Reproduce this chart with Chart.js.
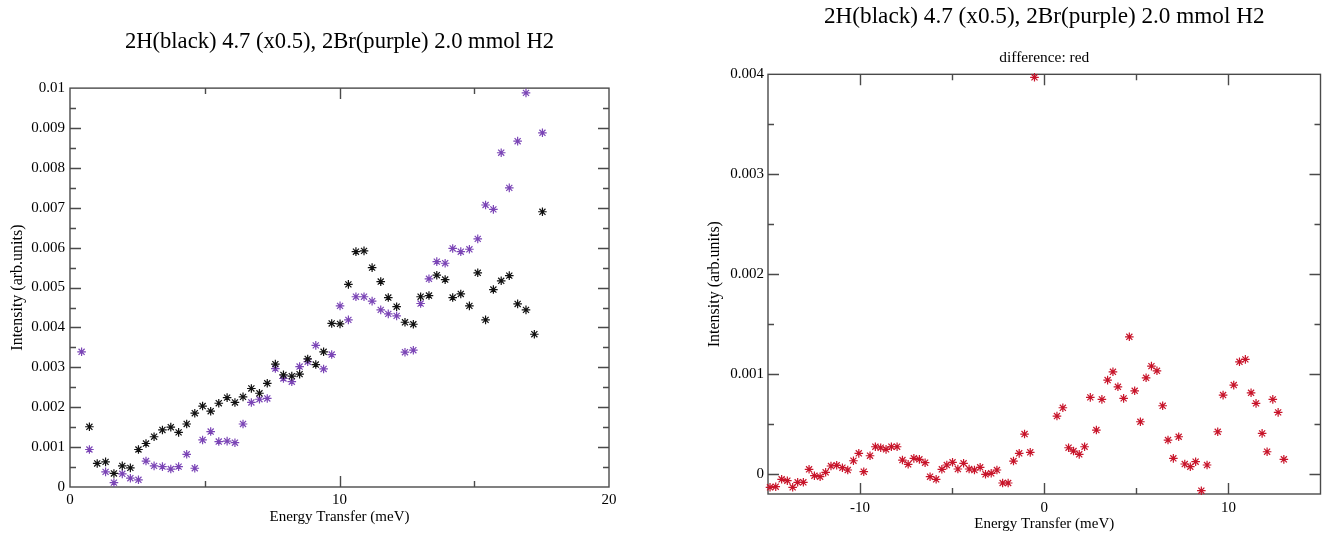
<!DOCTYPE html>
<html>
<head>
<meta charset="utf-8">
<title>2H / 2Br H2 spectra</title>
<script src="https://cdn.jsdelivr.net/npm/chart.js@4.4.1/dist/chart.umd.min.js"></script>
<style>
  html, body { margin: 0; padding: 0; background: #fff; overflow: hidden; }
  .panel { position: absolute; top: 0; height: 533px; }
  #left-panel { left: 0; width: 660px; }
  #right-panel { left: 660px; width: 666px; }
</style>
</head>
<body>
<div class="panel" id="left-panel"><canvas id="leftChart"></canvas></div>
<div class="panel" id="right-panel"><canvas id="rightChart"></canvas></div>
<script>
// --- Data: left panel, 2H (black, scaled x0.5) ---
const energyH = [
  0.72, 1.01, 1.32, 1.63, 1.94, 2.24, 2.54, 2.82, 3.12, 3.43,
  3.74, 4.03, 4.33, 4.63, 4.92, 5.22, 5.52, 5.83, 6.12, 6.42,
  6.73, 7.03, 7.32, 7.62, 7.92, 8.23, 8.52, 8.82, 9.12, 9.41,
  9.71, 10.02, 10.33, 10.61, 10.91, 11.21, 11.53, 11.81, 12.12, 12.43,
  12.74, 13.01, 13.32, 13.61, 13.92, 14.20, 14.50, 14.82, 15.13, 15.42,
  15.71, 16.00, 16.30, 16.61, 16.92, 17.23, 17.53
];
const intensityH = [
  0.00151, 0.00059, 0.00063, 0.00034, 0.00053, 0.00048, 0.00094, 0.00109, 0.00126, 0.00143,
  0.00150, 0.00137, 0.00158, 0.00185, 0.00203, 0.00190, 0.00210, 0.00224, 0.00212, 0.00226,
  0.00247, 0.00235, 0.00260, 0.00308, 0.00281, 0.00278, 0.00283, 0.00321, 0.00307, 0.00339,
  0.00410, 0.00409, 0.00508, 0.00590, 0.00592, 0.00550, 0.00515, 0.00475, 0.00452, 0.00413,
  0.00408, 0.00477, 0.00480, 0.00531, 0.00520, 0.00475, 0.00484, 0.00454, 0.00537, 0.00419,
  0.00495, 0.00517, 0.00530, 0.00459, 0.00444, 0.00383, 0.00690
];

// --- Data: left panel, 2Br (purple) ---
const energyBr = [
  0.43, 0.72, 1.32, 1.63, 1.94, 2.24, 2.54, 2.82, 3.12, 3.43,
  3.74, 4.03, 4.33, 4.63, 4.92, 5.22, 5.52, 5.83, 6.12, 6.42,
  6.73, 7.03, 7.32, 7.62, 7.92, 8.23, 8.52, 8.82, 9.12, 9.41,
  9.71, 10.02, 10.33, 10.61, 10.91, 11.21, 11.53, 11.81, 12.12, 12.43,
  12.74, 13.01, 13.32, 13.61, 13.92, 14.20, 14.50, 14.82, 15.13, 15.42,
  15.71, 16.00, 16.30, 16.61, 16.92, 17.53
];
const intensityBr = [
  0.00339, 0.00094, 0.00038, 0.00011, 0.00033, 0.00022, 0.00018, 0.00065, 0.00053, 0.00051,
  0.00045, 0.00051, 0.00082, 0.00047, 0.00118, 0.00139, 0.00114, 0.00115, 0.00111, 0.00158,
  0.00212, 0.00220, 0.00222, 0.00297, 0.00272, 0.00264, 0.00302, 0.00314, 0.00355, 0.00296,
  0.00332, 0.00454, 0.00419, 0.00477, 0.00477, 0.00466, 0.00444, 0.00434, 0.00429, 0.00338,
  0.00343, 0.00460, 0.00522, 0.00565, 0.00561, 0.00598, 0.00590, 0.00596, 0.00622, 0.00707,
  0.00696, 0.00838, 0.00750, 0.00867, 0.00988, 0.00888
];

// --- Data: right panel, difference (red) ---
const energyDiff = [
  -14.89, -14.58, -14.26, -13.95, -13.66, -13.39, -13.08, -12.77, -12.48, -12.17,
  -11.87, -11.58, -11.27, -10.96, -10.67, -10.36, -10.07, -9.80, -9.46, -9.17,
  -8.88, -8.59, -8.30, -7.99, -7.70, -7.39, -7.08, -6.78, -6.47, -6.20,
  -5.87, -5.56, -5.29, -4.98, -4.69, -4.38, -4.08, -3.79, -3.48, -3.19,
  -2.88, -2.57, -2.26, -1.96, -1.67, -1.36, -1.07, -0.76, -0.53, 0.69,
  1.01, 1.32, 1.59, 1.90, 2.19, 2.50, 2.83, 3.13, 3.44, 3.73,
  4.00, 4.31, 4.62, 4.91, 5.22, 5.53, 5.82, 6.12, 6.43, 6.72,
  7.01, 7.30, 7.63, 7.93, 8.22, 8.53, 8.84, 9.42, 9.71, 10.29,
  10.60, 10.92, 11.23, 11.50, 11.83, 12.10, 12.41, 12.70, 13.01
];
const intensityDiff = [
  -0.000133, -0.000127, -0.000053, -0.000067, -0.000133, -0.000083, -0.000083, 0.000047, -0.000017, -0.000027,
  0.000017, 0.000080, 0.000087, 0.000063, 0.000040, 0.000133, 0.000207, 0.000023, 0.000183, 0.000273,
  0.000263, 0.000247, 0.000273, 0.000273, 0.000140, 0.000097, 0.000157, 0.000147, 0.000113, -0.000027,
  -0.000053, 0.000047, 0.000090, 0.000117, 0.000050, 0.000107, 0.000050, 0.000040, 0.000067, -0.000003,
  0.000007, 0.000040, -0.000090, -0.000090, 0.000130, 0.000207, 0.000400, 0.000217, 0.003970, 0.000580,
  0.000663, 0.000263, 0.000230, 0.000197, 0.000273, 0.000767, 0.000440, 0.000747, 0.000940, 0.001023,
  0.000873, 0.000757, 0.001373, 0.000833, 0.000523, 0.000963, 0.001080, 0.001033, 0.000683, 0.000340,
  0.000157, 0.000373, 0.000100, 0.000073, 0.000123, -0.000167, 0.000090, 0.000423, 0.000790, 0.000890,
  0.001123, 0.001147, 0.000813, 0.000707, 0.000407, 0.000223, 0.000747, 0.000617, 0.000147
];

// --- Ticks ---
const leftXTicks = [0, 10, 20];
const leftXTickLabels = ['0', '10', '20'];
const leftXMinor = [5, 15];
const leftYTicks = [0, 0.001, 0.002, 0.003, 0.004, 0.005, 0.006, 0.007, 0.008, 0.009, 0.01];
const leftYTickLabels = ['0', '0.001', '0.002', '0.003', '0.004', '0.005', '0.006', '0.007', '0.008', '0.009', '0.01'];
const leftYMinor = [0.0005, 0.0015, 0.0025, 0.0035, 0.0045, 0.0055, 0.0065, 0.0075, 0.0085, 0.0095];

const rightXTicks = [-10, 0, 10];
const rightXTickLabels = ['-10', '0', '10'];
const rightXMinor = [-5, 5];
const rightYTicks = [0, 0.001, 0.002, 0.003, 0.004];
const rightYTickLabels = ['0', '0.001', '0.002', '0.003', '0.004'];
const rightYMinor = [0.0005, 0.0015, 0.0025, 0.0035];

// --- Style ---
const SERIF = "'Liberation Serif', 'DejaVu Serif', serif";
const BLACK = '#111111';
const PURPLE = '#7b45b6';
const RED = '#c8142a';
const FRAME = '#4a4a4a';

// frame + inward mirrored ticks, placed through the chart's own scales
const innerTicks = {
  id: 'innerTicks',
  beforeDatasetsDraw(chart, args, opts) {
    const { ctx, chartArea: a, scales } = chart;
    ctx.save();
    ctx.strokeStyle = opts.color;
    ctx.lineWidth = opts.width;
    ctx.strokeRect(a.left, a.top, a.right - a.left, a.bottom - a.top);
    ctx.beginPath();
    const onX = (vals, len) => vals.forEach(v => {
      const px = Math.round(scales.x.getPixelForValue(v)) + 0.5;
      ctx.moveTo(px, a.bottom); ctx.lineTo(px, a.bottom - len);
      ctx.moveTo(px, a.top); ctx.lineTo(px, a.top + len);
    });
    const onY = (vals, len) => vals.forEach(v => {
      const py = Math.round(scales.y.getPixelForValue(v)) + 0.5;
      ctx.moveTo(a.left, py); ctx.lineTo(a.left + len, py);
      ctx.moveTo(a.right, py); ctx.lineTo(a.right - len, py);
    });
    onX(opts.xMajor, opts.majorLen);
    onX(opts.xMinor, opts.minorLen);
    onY(opts.yMajor, opts.majorLen);
    onY(opts.yMinor, opts.minorLen);
    ctx.stroke();
    ctx.restore();
  }
};

function toPoints(xs, ys) {
  return xs.map((x, i) => ({ x: x, y: ys[i] }));
}

function starSet(label, xs, ys, color) {
  return {
    label: label,
    data: toPoints(xs, ys),
    pointStyle: 'star',
    pointRadius: 4.3,
    pointBorderWidth: 1.2,
    pointBorderColor: color,
    pointBackgroundColor: color,
    showLine: false,
    clip: false
  };
}

function axis(o) {
  return {
    type: 'linear',
    min: o.min,
    max: o.max,
    afterBuildTicks: s => { s.ticks = o.ticks.map(v => ({ value: v })); },
    afterFit: s => { if (o.height) s.height = o.height; if (o.width) s.width = o.width; },
    grid: { display: false, drawTicks: false },
    border: { display: false },
    ticks: {
      autoSkip: false,
      maxRotation: 0,
      padding: o.pad,
      color: '#000',
      font: { family: SERIF, size: 15 },
      callback: (v, i) => o.labels[i]
    },
    title: {
      display: true,
      text: o.title,
      color: '#000',
      font: { family: SERIF, size: o.titleSize },
      padding: o.titlePad
    }
  };
}

// --- Left chart ---
new Chart(document.getElementById('leftChart'), {
  type: 'scatter',
  data: {
    datasets: [
      starSet('2H', energyH, intensityH, BLACK),
      starSet('2Br', energyBr, intensityBr, PURPLE)
    ]
  },
  options: {
    responsive: true,
    maintainAspectRatio: false,
    animation: false,
    events: [],
    layout: { padding: { left: 0, right: 51, top: 0, bottom: 0 } },
    scales: {
      x: axis({ min: 0, max: 20, ticks: leftXTicks, labels: leftXTickLabels, height: 46, pad: 4,
                title: 'Energy Transfer (meV)', titleSize: 15, titlePad: { top: 0, bottom: 7 } }),
      y: axis({ min: 0, max: 0.01, ticks: leftYTicks, labels: leftYTickLabels, width: 70, pad: 5,
                title: 'Intensity (arb.units)', titleSize: 16, titlePad: { top: 8, bottom: 0 } })
    },
    plugins: {
      legend: { display: false },
      tooltip: { enabled: false },
      title: {
        display: true,
        fullSize: false,
        text: '2H(black) 4.7 (x0.5), 2Br(purple) 2.0 mmol H2',
        color: '#000',
        font: { family: SERIF, size: 22.6, weight: 'normal' },
        padding: { top: 29, bottom: 32 }
      },
      innerTicks: { color: FRAME, width: 1.4, majorLen: 11, minorLen: 6,
                    xMajor: [10], xMinor: leftXMinor, yMajor: leftYTicks.slice(1, -1), yMinor: leftYMinor }
    }
  },
  plugins: [innerTicks]
});

// --- Right chart ---
new Chart(document.getElementById('rightChart'), {
  type: 'scatter',
  data: {
    datasets: [starSet('difference', energyDiff, intensityDiff, RED)]
  },
  options: {
    responsive: true,
    maintainAspectRatio: false,
    animation: false,
    events: [],
    layout: { padding: { left: 0, right: 2, top: 0, bottom: 0 } },
    scales: {
      x: axis({ min: -15, max: 15, ticks: rightXTicks, labels: rightXTickLabels, height: 39, pad: 5,
                title: 'Energy Transfer (meV)', titleSize: 15, titlePad: { top: 0, bottom: 0 } }),
      y: axis({ min: -0.0002, max: 0.004, ticks: rightYTicks, labels: rightYTickLabels, width: 108, pad: 4,
                title: 'Intensity (arb.units)', titleSize: 16, titlePad: { top: 45, bottom: 0 } })
    },
    plugins: {
      legend: { display: false },
      tooltip: { enabled: false },
      title: {
        display: true,
        fullSize: false,
        text: '2H(black) 4.7 (x0.5), 2Br(purple) 2.0 mmol H2',
        color: '#000',
        font: { family: SERIF, size: 23.2, weight: 'normal' },
        padding: { top: 3, bottom: 18 }
      },
      subtitle: {
        display: true,
        fullSize: false,
        text: 'difference: red',
        color: '#000',
        font: { family: SERIF, size: 15.4, weight: 'normal' },
        padding: { top: 0, bottom: 7 }
      },
      innerTicks: { color: FRAME, width: 1.4, majorLen: 11, minorLen: 6,
                    xMajor: rightXTicks, xMinor: rightXMinor, yMajor: rightYTicks.slice(0, -1), yMinor: rightYMinor }
    }
  },
  plugins: [innerTicks]
});
</script>
</body>
</html>
